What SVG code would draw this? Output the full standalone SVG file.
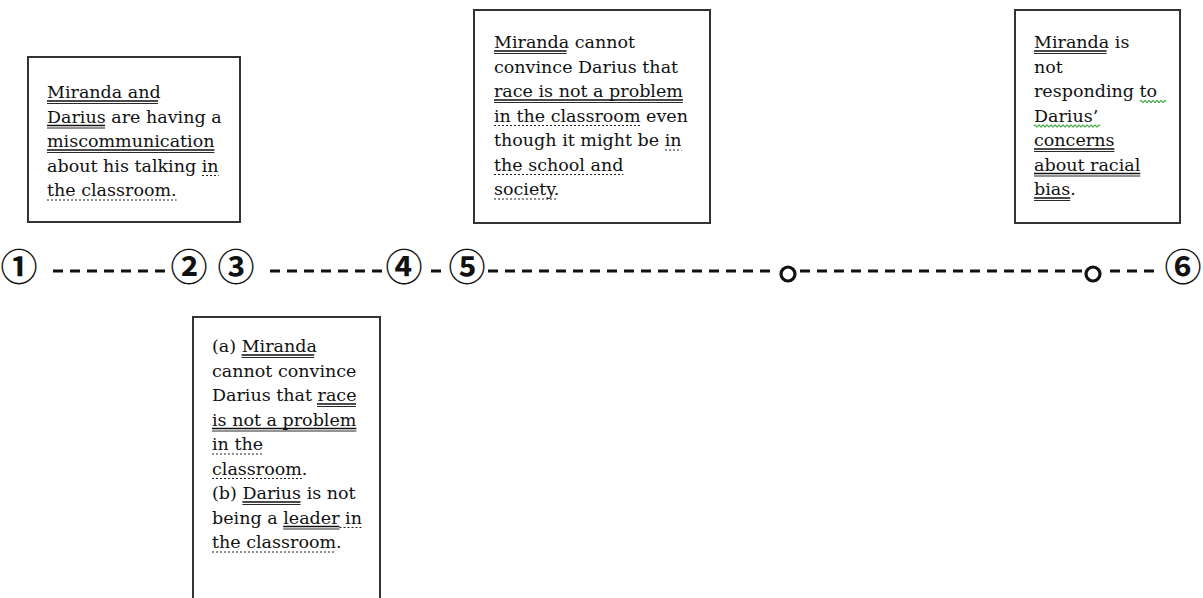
<svg xmlns="http://www.w3.org/2000/svg" width="1203" height="598" viewBox="0 0 1203 598">
<style>
.box{fill:#fff;stroke:#333;stroke-width:2}
.t{font-family:"DejaVu Serif","Liberation Serif",serif;font-size:17.5px;fill:#111}
.u1{stroke:#111;stroke-width:1.5}
.u2{stroke:#111;stroke-width:0.9}
.ud{stroke:#222;stroke-width:1.2;stroke-dasharray:2 2}
.uw{stroke:#3aa53a;stroke-width:1.2;fill:none}
.num{font-family:"Noto Sans CJK JP","DejaVu Sans",sans-serif;font-size:37px;font-weight:600;fill:#111;text-anchor:middle}
.dash{stroke:#111;stroke-width:3;stroke-dasharray:10 7;fill:none}
.dot{fill:#fff;stroke:#111;stroke-width:3.2}
</style>
<rect width="1203" height="598" fill="#fff"/>
<g id="connectors">
<line class="dash" x1="53" y1="271" x2="168" y2="271"/>
<line class="dash" x1="270" y1="271" x2="383" y2="271"/>
<line class="dash" x1="431" y1="271" x2="443" y2="271"/>
<line class="dash" x1="488" y1="271" x2="776" y2="271"/>
<line class="dash" x1="800" y1="271" x2="1082" y2="271"/>
<line class="dash" x1="1110" y1="271" x2="1156" y2="271"/>
</g>
<g id="markers">
<g id="m1"><text class="num" x="19" y="281">①</text></g>
<g id="m2"><text class="num" x="189" y="281">②</text></g>
<g id="m3"><text class="num" x="236" y="281">③</text></g>
<g id="m4"><text class="num" x="404" y="281">④</text></g>
<g id="m5"><text class="num" x="467" y="281">⑤</text></g>
<g id="o1"><circle class="dot" cx="788" cy="274" r="7"/></g>
<g id="o2"><circle class="dot" cx="1093" cy="274" r="7"/></g>
<g id="m6"><text class="num" x="1183" y="281">⑥</text></g>
</g>
<g id="box1">
<rect class="box" x="28" y="57" width="212" height="165"/>
<text class="t">
<tspan x="47" y="98">Miranda and</tspan>
<tspan x="47" y="122.5">Darius are having a</tspan>
<tspan x="47" y="147">miscommunication</tspan>
<tspan x="47" y="171.5">about his talking in</tspan>
<tspan x="47" y="196">the classroom.</tspan>
</text>
<path class="u1" d="M47 101H158M47 125.5H105M47 150H214.4"/>
<path class="u2" d="M47 103.5H158M47 128H105M47 152.5H214.4"/>
<path class="ud" d="M202 175.5H218.7M47 200H176.6"/>
</g>
<g id="box2">
<rect class="box" x="474" y="10" width="236" height="213"/>
<text class="t">
<tspan x="494" y="48">Miranda cannot</tspan>
<tspan x="494" y="72.5">convince Darius that</tspan>
<tspan x="494" y="97">race is not a problem</tspan>
<tspan x="494" y="121.5">in the classroom even</tspan>
<tspan x="494" y="146">though it might be in</tspan>
<tspan x="494" y="170.5">the school and</tspan>
<tspan x="494" y="195">society.</tspan>
</text>
<path class="u1" d="M494 51H566.6M494 100H682.9"/>
<path class="u2" d="M494 53.5H566.6M494 102.5H682.9"/>
<path class="ud" d="M494 125.5H640.5M665 150H681.6M494 174.5H623.4M494 199H556.2"/>
</g>
<g id="box3">
<rect class="box" x="1015" y="10" width="165" height="213"/>
<text class="t">
<tspan x="1034" y="48">Miranda is</tspan>
<tspan x="1034" y="72.5">not</tspan>
<tspan x="1034" y="97">responding to </tspan>
<tspan x="1034" y="121.5">Darius’</tspan>
<tspan x="1034" y="146">concerns</tspan>
<tspan x="1034" y="170.5">about racial</tspan>
<tspan x="1034" y="195">bias.</tspan>
</text>
<path class="u1" d="M1034 51H1106.6M1034 149H1114.4M1034 173.5H1140.3M1034 198H1070.2"/>
<path class="u2" d="M1034 53.5H1106.6M1034 151.5H1114.4M1034 176H1140.3M1034 200.5H1070.2"/>
<path class="uw" d="M1140 101.5q1 -2 2 0t2 0t2 0t2 0t2 0t2 0t2 0t2 0t2 0t2 0t2 0t2 0t2 0"/>
<path class="uw" d="M1034 126q1 -2 2 0t2 0t2 0t2 0t2 0t2 0t2 0t2 0t2 0t2 0t2 0t2 0t2 0t2 0t2 0t2 0t2 0t2 0t2 0t2 0t2 0t2 0t2 0t2 0t2 0t2 0t2 0t2 0t2 0t2 0t2 0t2 0t2 0"/>
</g>
<g id="box4">
<rect class="box" x="193" y="317" width="187" height="300"/>
<text class="t">
<tspan x="212" y="352">(a) Miranda</tspan>
<tspan x="212" y="376.5">cannot convince</tspan>
<tspan x="212" y="401">Darius that race</tspan>
<tspan x="212" y="425.5">is not a problem</tspan>
<tspan x="212" y="450">in the</tspan>
<tspan x="212" y="474.5">classroom.</tspan>
<tspan x="212" y="499">(b) Darius is not</tspan>
<tspan x="212" y="523.5">being a leader in</tspan>
<tspan x="212" y="548">the classroom.</tspan>
</text>
<path class="u1" d="M241.6 355H314.2M317 404H356M212 428.5H356.4M242.4 502H300.5M283.2 526.5H339.5"/>
<path class="u2" d="M241.6 357.5H314.2M317 406.5H356M212 431H356.4M242.4 504.5H300.5M283.2 529H339.5"/>
<path class="ud" d="M212 454H263.1M212 478.5H301.8M339.5 527.5H361.9M212 552H336"/>
</g>
</svg>
